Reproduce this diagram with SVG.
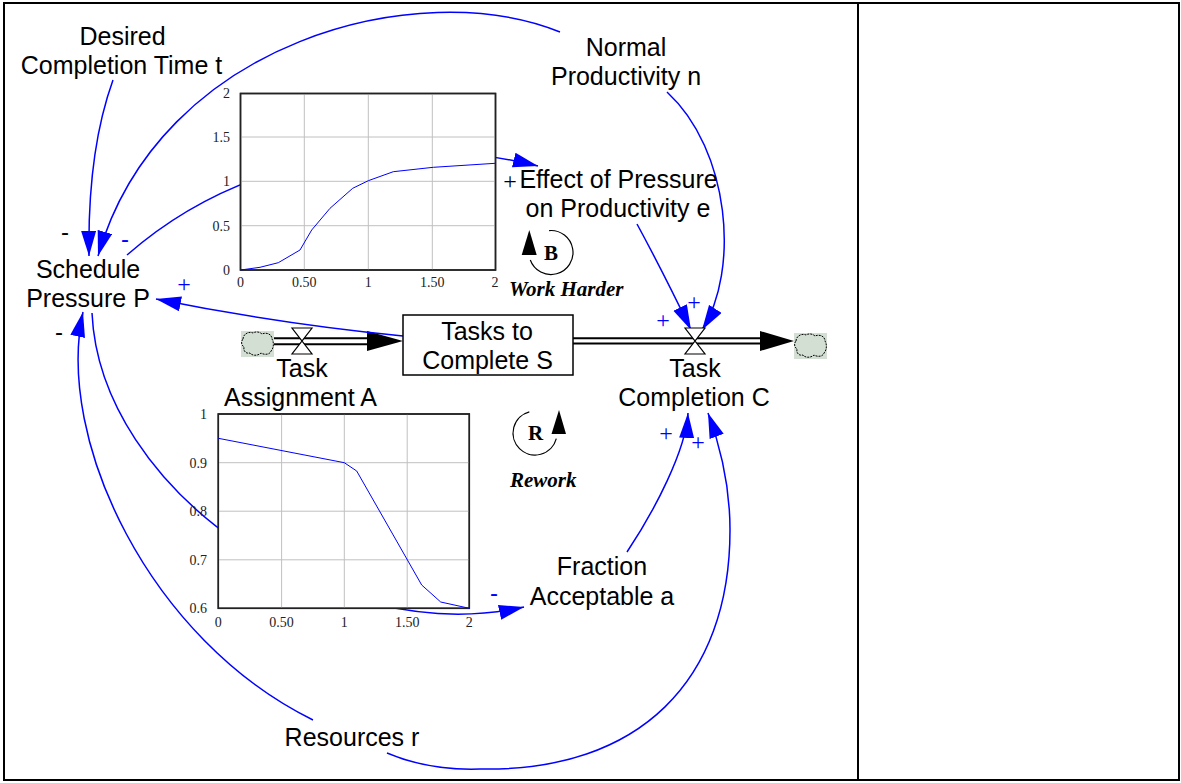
<svg xmlns="http://www.w3.org/2000/svg" width="1181" height="783" viewBox="0 0 1181 783">
<style>
.lbl{font-family:"Liberation Sans",Arial,sans-serif;font-size:25px;fill:#000;text-anchor:middle}
.ax{font-family:"Liberation Serif","Times New Roman",serif;font-size:14px;fill:#222}
.axr{text-anchor:end}
.axm{text-anchor:middle}
.loop{font-family:"Liberation Serif","Times New Roman",serif;font-weight:bold;font-size:21px;fill:#000}
.loopi{font-style:italic}
.plus{font-family:"Liberation Serif","Times New Roman",serif;font-size:24px;text-anchor:middle}
.minus{font-family:"Liberation Sans",Arial,sans-serif;font-size:24px;text-anchor:middle}
.blue{fill:#0000ff}
.blk{fill:#000}
.conn{fill:none;stroke:#0000ff;stroke-width:1.5;marker-end:url(#ah)}
.grid{stroke:#c0c0c0;stroke-width:1}
.frame{fill:#fff;stroke:#222;stroke-width:1.5}
.curve{fill:none;stroke:#0000ff;stroke-width:1}
.pipe{stroke:#000;stroke-width:2}
.valve{fill:#fff;stroke:#000;stroke-width:1.2}
</style>
<defs>
<marker id="ah" markerUnits="userSpaceOnUse" markerWidth="26" markerHeight="16" refX="25" refY="7.5" orient="auto">
<path d="M0,0 L25,7.5 L0,15 Z" fill="#0000ff"/>
</marker>
<g id="cloud">
<rect width="33" height="26" fill="#d4dfd4"/>
<path d="M2,8 C2,3 8,0 12,2 C15,0 19,1 21,3 C25,1 31,3 31,8 C33,11 33,17 30,20 C29,24 23,24 20,22 C17,25 11,25 9,22 C5,23 2,20 3,16 C0,14 0,10 2,8 Z" fill="#d4dfd4" stroke="#000" stroke-width="1" stroke-dasharray="2,1"/>
</g>
</defs>
<rect width="1181" height="783" fill="#fff"/>
<rect x="4" y="3" width="1175" height="777" fill="none" stroke="#000" stroke-width="2"/>
<line x1="858" y1="3" x2="858" y2="780" stroke="#000" stroke-width="2"/>

<g id="flows">
<line class="pipe" x1="273" y1="338.3" x2="368" y2="338.3"/>
<line class="pipe" x1="273" y1="344.3" x2="368" y2="344.3"/>
<path d="M367,331 L403,341 L367,351 Z" fill="#000"/>
<line class="pipe" x1="573" y1="338.3" x2="761" y2="338.3"/>
<line class="pipe" x1="573" y1="343.5" x2="761" y2="343.5"/>
<path d="M760,331 L794,341 L760,351 Z" fill="#000"/>
<use href="#cloud" x="241" y="331"/>
<use href="#cloud" x="794" y="333"/>
</g>

<g id="connectors">
<path class="conn" d="M113,80 C95,130 88,190 89,256"/>
<path class="conn" d="M560,32 C420,-25 160,40 98,256"/>
<path class="conn" d="M127,255 C247,150 408,134 538,166"/>
<path class="conn" d="M637,224 Q662,270 691,330"/>
<path class="conn" d="M667,92 C730,150 740,270 702,330"/>
<path class="conn" d="M403,336 Q280,324 156,299"/>
<path class="conn" d="M313,720 C150,640 55,440 83,312"/>
<path class="conn" d="M387,753 C420,767 450,770 480,769 C640,772 730,680 730,530 C730,480 718,440 708,413"/>
<path class="conn" d="M627,552 C655,510 686,450 688,413"/>
<path class="conn" d="M92,313 C100,490 330,650 524,607"/>
<text class="minus blk" x="65" y="240">-</text>
<text class="minus blue" x="125" y="247">-</text>
<text class="plus blue" x="184" y="292">+</text>
<text class="minus blk" x="59" y="340">-</text>
<text class="plus blue" x="663" y="328">+</text>
<text class="plus blue" x="694" y="310">+</text>
<text class="plus blue" x="666" y="441">+</text>
<text class="plus blue" x="698" y="450">+</text>
<text class="minus blue" x="494" y="601">-</text>
<text class="plus blk" x="510" y="189">+</text>
</g>

<g id="valve-assignment">
<polygon class="valve" points="292,328 312,328 292,354 312,354"/>
</g>
<g id="valve-completion">
<polygon class="valve" points="685,328 705,328 685,354 705,354"/>
</g>

<g id="graph-effect">
<rect class="frame" x="240.5" y="93.5" width="255" height="176.5"/>
<line class="grid" x1="304.3" y1="94" x2="304.3" y2="270"/>
<line class="grid" x1="368.3" y1="94" x2="368.3" y2="270"/>
<line class="grid" x1="432.3" y1="94" x2="432.3" y2="270"/>
<line class="grid" x1="241" y1="137" x2="495" y2="137"/>
<line class="grid" x1="241" y1="181.3" x2="495" y2="181.3"/>
<line class="grid" x1="241" y1="225.7" x2="495" y2="225.7"/>
<rect x="240.5" y="93.5" width="255" height="176.5" fill="none" stroke="#222" stroke-width="1.5"/>
<polyline class="curve" points="240.7,270 260,267.3 278.3,262.7 300,250 311.7,230 330,208.3 352.7,188.3 368.3,180.7 393.3,171.7 433.3,167.3 495.3,163.3"/>
<text class="ax axr" x="230" y="98">2</text>
<text class="ax axr" x="230" y="142">1.5</text>
<text class="ax axr" x="230" y="186">1</text>
<text class="ax axr" x="230" y="231">0.5</text>
<text class="ax axr" x="230" y="275">0</text>
<text class="ax axm" x="240.5" y="287">0</text>
<text class="ax axm" x="304.3" y="287">0.50</text>
<text class="ax axm" x="368.3" y="287">1</text>
<text class="ax axm" x="432.3" y="287">1.50</text>
<text class="ax axm" x="495" y="287">2</text>
</g>

<g id="graph-fraction">
<rect class="frame" x="218.3" y="414" width="251" height="194.3"/>
<line class="grid" x1="281.6" y1="414" x2="281.6" y2="608"/>
<line class="grid" x1="344.3" y1="414" x2="344.3" y2="608"/>
<line class="grid" x1="407.2" y1="414" x2="407.2" y2="608"/>
<line class="grid" x1="218.5" y1="462.7" x2="469" y2="462.7"/>
<line class="grid" x1="218.5" y1="511.2" x2="469" y2="511.2"/>
<line class="grid" x1="218.5" y1="559.8" x2="469" y2="559.8"/>
<rect x="218.3" y="414" width="251" height="194.3" fill="none" stroke="#222" stroke-width="1.5"/>
<polyline class="curve" points="218.3,438.3 344.3,462.7 356.7,471 421.7,585 440.7,602 469.3,608.3"/>
<text class="ax axr" x="207" y="419">1</text>
<text class="ax axr" x="207" y="468">0.9</text>
<text class="ax axr" x="207" y="516">0.8</text>
<text class="ax axr" x="207" y="565">0.7</text>
<text class="ax axr" x="207" y="613">0.6</text>
<text class="ax axm" x="218.3" y="627">0</text>
<text class="ax axm" x="281.6" y="627">0.50</text>
<text class="ax axm" x="344.3" y="627">1</text>
<text class="ax axm" x="407.2" y="627">1.50</text>
<text class="ax axm" x="469.3" y="627">2</text>
</g>

<g id="stock-tasks">
<rect x="403" y="315" width="170" height="60" fill="#fff" stroke="#000" stroke-width="1.5"/>
<text class="lbl" x="487" y="340">Tasks to</text>
<text class="lbl" x="487.5" y="368.5">Complete S</text>
</g>

<g id="desired">
<text class="lbl" x="122.5" y="45">Desired</text>
<text class="lbl" x="121.5" y="73.5">Completion Time t</text>
</g>
<g id="normal">
<text class="lbl" x="626" y="56">Normal</text>
<text class="lbl" x="626" y="85">Productivity n</text>
</g>
<g id="effect">
<text class="lbl" x="618.5" y="188">Effect of Pressure</text>
<text class="lbl" x="618" y="217">on Productivity e</text>
</g>
<g id="schedule">
<text class="lbl" x="88" y="277.5">Schedule</text>
<text class="lbl" x="88" y="307.3">Pressure P</text>
</g>
<g id="assignment">
<text class="lbl" x="302" y="377">Task</text>
<text class="lbl" x="300.5" y="406">Assignment A</text>
</g>
<g id="completion">
<text class="lbl" x="695" y="377">Task</text>
<text class="lbl" x="694" y="406">Completion C</text>
</g>
<g id="fraction">
<text class="lbl" x="602" y="575">Fraction</text>
<text class="lbl" x="602" y="605">Acceptable a</text>
</g>
<g id="resources">
<text class="lbl" x="352" y="746">Resources r</text>
</g>

<g id="loop-B">
<path d="M530.3,260 A22,22 0 1 0 549.1,230.6" fill="none" stroke="#000" stroke-width="1.2"/>
<path d="M529.3,230 L536.7,255 L521.7,255 Z" fill="#000"/>
<text class="loop" x="551" y="259.5" text-anchor="middle">B</text>
<text class="loop loopi" x="509" y="296">Work Harder</text>
</g>
<g id="loop-R">
<path d="M529.3,411.8 A22,22 0 1 0 556.3,438.7" fill="none" stroke="#000" stroke-width="1.2"/>
<path d="M559,410 L566,434 L551.5,434 Z" fill="#000"/>
<text class="loop" x="535.5" y="440" text-anchor="middle">R</text>
<text class="loop loopi" x="510" y="487">Rework</text>
</g>
</svg>
